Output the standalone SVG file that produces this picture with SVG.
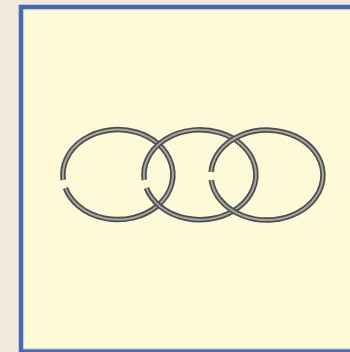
<svg xmlns="http://www.w3.org/2000/svg" width="350" height="352" viewBox="0 0 350 352">
<defs>
<filter id="soft" x="-10%" y="-10%" width="120%" height="120%"><feGaussianBlur stdDeviation="0.6"/></filter>
</defs>
<style>
.ring{filter:url(#soft)}
.ring-base{fill:none;stroke:#4e4e4e;stroke-width:5.5;stroke-linecap:butt}
.ring-hi{fill:none;stroke:#a4a4a4;stroke-width:2;stroke-linecap:butt}
</style>
<rect x="0" y="0" width="350" height="352" fill="#f1eadb"/>
<g id="frame">
<rect x="21" y="7" width="340" height="344.5" fill="#fefad8" stroke="#4569b5" stroke-width="4.5"/>
<rect x="23.8" y="9.8" width="334" height="338.9" fill="none" stroke="#c9c9c0" stroke-width="0.8"/>
</g>
<g id="ring1" class="ring">
<path class="ring-base" d="M63.3 180 A55 45 0 1 1 65.4 188"/>
<path class="ring-hi" d="M63.3 180 A55 45 0 1 1 65.4 188"/>
</g>
<g id="ring2" class="ring">
<path class="ring-base" d="M144.3 180 A56 45 0 1 1 146.4 188"/>
<path class="ring-hi" d="M144.3 180 A56 45 0 1 1 146.4 188"/>
</g>
<g id="ring3" class="ring">
<path class="ring-base" d="M211.1 172 A56 45 0 1 1 211.3 180"/>
<path class="ring-hi" d="M211.1 172 A56 45 0 1 1 211.3 180"/>
</g>
</svg>
